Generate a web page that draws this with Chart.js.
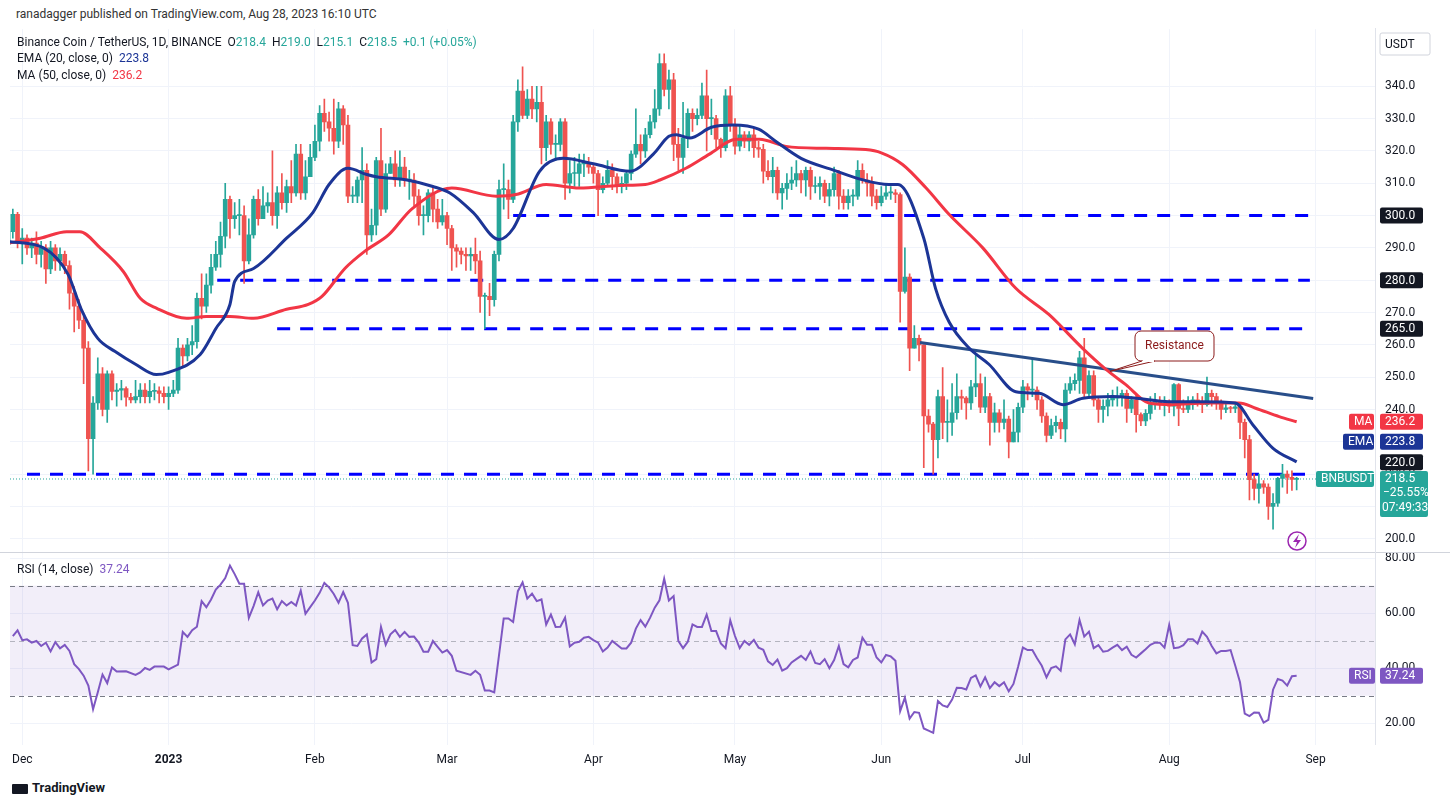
<!DOCTYPE html>
<html><head><meta charset="utf-8">
<script src="https://cdn.jsdelivr.net/npm/chart.js@4.4.0/dist/chart.umd.min.js"></script>
<style>
body{margin:0;background:#fff;font-family:Roboto,"Liberation Sans",sans-serif;color:#131722;width:1450px;height:806px;overflow:hidden;position:relative}
canvas{position:absolute;left:0}
#c1{top:12px}
#c2{top:538px}
.t{position:absolute;font-size:12px;white-space:nowrap}
#sep{position:absolute;left:0;top:552px;width:1450px;height:1px;background:#d1d4dc}
#sep2{position:absolute;left:1375px;top:28px;width:1px;height:717px;background:#e0e3eb}
</style></head><body>
<div class="t" style="left:16px;top:7px;color:#333;font-size:12px">ranadagger published on TradingView.com, Aug 28, 2023 16:10 UTC</div>
<canvas id="c1" width="1450" height="560"></canvas>
<canvas id="c2" width="1450" height="230"></canvas>
<div id="sep"></div><div id="sep2"></div>
<div class="t" style="left:17px;top:35px">Binance Coin / TetherUS, 1D, BINANCE &nbsp;<span style="color:#131722">O</span><span style="color:#26a69a">218.4</span> &nbsp;<span>H</span><span style="color:#26a69a">219.0</span> &nbsp;<span>L</span><span style="color:#26a69a">215.1</span> &nbsp;<span>C</span><span style="color:#26a69a">218.5 &nbsp;+0.1 (+0.05%)</span></div>
<div class="t" style="left:17px;top:51px">EMA (20, close, 0) &nbsp;<span style="color:#1c3596">223.8</span></div>
<div class="t" style="left:17px;top:68px">MA (50, close, 0) &nbsp;<span style="color:#f23645">236.2</span></div>
<div class="t" style="left:17px;top:562px">RSI (14, close) &nbsp;<span style="color:#7e57c2">37.24</span></div>
<div class="t" style="left:12px;top:780px;font-size:13px;font-weight:bold;color:#131722"><span style="display:inline-block;width:16px;height:10px;background:#131722;vertical-align:middle;margin-right:4px;border-radius:1px"></span>TradingView</div>
<script>
// ---- data (day 0 = 2022-11-28) ----
const closes=[295,300.4,292,293,290,291.5,288,290,283.5,290,286,288,284.5,276,272,267.6,259,231,242,251,
240,251,245.6,246,246.5,243.8,243,244,246,244,245.6,245.8,245,244,245,246,259,256.6,260,261,
274.4,272,278.5,284,288,293.6,305,299,300,300,286,294,305,299,303,304,300,307,304,309,
307,319,307,312,318,323,331.6,329,327,323,333,328,306,306,311,314,294,297,317,302,
313,316,311,315,311,311,306,300,300,307,302,298,300,296,290,289,288,287.5,288,286,
275,275,274,288,308,308,305,329,338.5,331,336,333,335,321,329,322,322,329,310,313,
313,316,316,315,313,308,310,314,312,309,310,313,319,322,320,325,329,333,347,339,
342,322,318,324,331.6,330,331,337,330,330,323.6,321,337,328,321.5,325,323,325,321,320.5,
313.7,312,314,307,308.4,310,311,313,311,314,309,309,310,306,308,313,306,304,306,306,
314,311,310,306,304,306,307,307,306.5,276.5,281,259,262,260,238,235.5,230.7,244,236,236,
239,244,243.5,242,247,248,240.7,244,236,239,236,237,230,233,240.7,247,246,246,243,238,
232,235,236,234,246,248,249,256,245,250.5,243,240,241,243,243.5,244,245,240.3,243,238.4,
236.5,238.8,241.5,242.6,241.5,241.8,241,247.7,240.3,240,242.6,243,242,241.5,245,244,242,240,240.5,240.3,
240.8,236,230.7,218.3,215.6,217,216,210,211,218.7,220,219,218.4,218.5];
const highs=[298,302,301,296,294,293,295,292,291,292,291,290,289,286,278,274,269,261,244,256,
253,252,252,248,249,247,245,249,248,248,249,248,247,247,247,249,262,260,262,266,
276,282,282,288,292,298,310,306,304,305,303,299,306,308,309,307,320,309,313,311,
317,322,322,317,322,328,334,336,332,336,335,334,331,309,312,321,316,302,318,327,
316,318,320,320,318,314,313,308,303,308,309,305,305,301,297,291,290,290,290,293,
289,276,279,289,311,316,311,331,342,346,339,340,340,340,331,330,325,330,330,317,
318,319,319,318,316,314,312,317,316,313,312,314,320,333,325,327,331,339,350,350,
345,344,327,335,333,333,333,341,345,336,331,324,339,340,330,328,326,326,327,323,
322,317,318,315,310,313,315,317,314,315,315,312,312,311,310,315,314,308,308,308,
317,316,313,312,308,309,310,309,308,307,290,282,266,263,260,240,236,246,253,243,
248,251,246,244,249,257,251,250,245,242,240,243,238,240,242,249,248,256,247,244,
239,237,238,237,248,250,251,258,262,252,252,244,243,245,246,247,246,246,244,245,
239,240,244,245,244,244,243,248,248,243,244,244,245,244,250,246,245,243,242,241,
242,242,237,232,220,220,218,217,214,219,223,221,221,219];
const lows=[289,293,290,285,288,287,285,284,279,282,283,283,282,271,264,265,248,221,220,240,
238,236,243,241,243,241,242,242,242,242,242,243,242,242,240,244,245,253,255,257,
259,268,270,276,283,284,290,293,296,294,279,285,293,297,299,301,297,296,302,301,
304,306,305,305,315,317,320,326,323,319,321,322,304,304,304,304,288,292,294,300,
301,313,309,309,309,305,303,297,294,298,298,296,297,291,283,284,285,283,283,282,
270,265,269,272,286,302,299,304,326,330,330,330,329,316,317,319,317,320,305,307,
309,309,312,313,310,300,307,309,308,307,307,308,311,318,316,318,324,327,331,337,
333,317,314,313,321,326,328,330,320,325,321,318,320,326,319,320,321,320,318,318,
310,311,307,305,302,305,308,309,307,306,305,307,305,304,303,306,302,302,302,303,
305,310,306,303,302,303,305,305,304,267,276,252,259,255,222,233,220,225,231,230,
232,237,240,237,240,244,239,239,229,233,233,234,225,230,230,239,243,244,240,236,
230,231,233,231,230,245,246,245,244,244,241,236,236,238,241,241,241,236,239,233,
235,235,237,240,240,238,239,238,235,239,239,240,241,239,241,241,240,237,239,239,
239,231,225,212,212,211,214,206,203,210,216,214,215,215.1];
const firstOpen=291;
const emaDays=[0,7.5,12.7,15.5,19,22.6,27,31.4,34,40.7,44,47,48,52,59,64.6,68,72,76,78,84.5,90,93.6,98.5,104,107,112.6,117.6,124,131.8,136.7,140,141.6,144.4,149,153.6,159,162.6,168,175,180.7,186.6,188.5,194,196.5,199.4,203.6,207.8,213.5,218.5,223.5,227.7,234,239,246,253,260,263.7,268,273];
const emaVals=[292,290,281.8,271,262,258,254,250.8,251.5,257,265,272.5,279.6,283.6,293,301,309.6,314.6,312.7,312,311,309,307,301,292.6,296,313.7,317.7,316,313.7,319,324.5,325,324,327.3,328,326.7,323,317.7,314,311.2,309.6,309.6,293,277.4,267,259,254,245.5,245,241.5,243.5,244,243.5,242.4,242.4,242,235.3,228,223.8];
const maDays=[0,6.8,12.4,15.2,19.5,24.4,28,31.5,37.8,42,47,52,59,63.6,66.5,71.4,75.6,80.6,85.5,94,103.4,107.6,114,121,129.5,135,138.1,143.7,148.6,154.3,159.2,164.8,173.3,181.7,185,189.5,194.5,199.4,206.5,213.5,220.5,227.6,232.6,236.8,241.7,246.7,253.8,260.8,264.3,269.3,273];
const maVals=[291.5,293,295,295,290,282.7,274.4,271.3,268.2,268.8,268.8,268.2,271,272.5,275,283.7,289,294,302,308.5,306,306.5,309.6,308.5,309.3,309.6,311,314.7,319,323.6,323.6,321.4,320.8,320.4,319.4,315.8,308.5,300.3,290,277.5,269.4,259,252.4,247.7,242,241.5,242,242,240.4,237.8,236.2];
const levels=[[4,220],[44.3,280],[57,265],[107,300]];
const levelEnd=275.8;
const resistance=[[193.2,260.7],[276.5,243.4]];
const lastPrice=218.5;
const rsiPts=[[1,51.7],[2,53.8],[3,50.2],[4,50.5],[5,49.3],[6,49.9],[7,48.1],[8,49.3],[9,46.1],[10,49.5],[11,47.2],[12,48.5],[13,46.3],[14,41.5],[15,39.7],[16,37.3],[17,33.7],[18,25.1],[19,31.3],[20,37.7],[21,34.6],[22,40.3],[23,38.8],[25,38.9],[27,37.6],[28,38.5],[29,40.1],[30,39.4],[31,40.6],[33,40.6],[34,39.6],[36,41.3],[37,53.2],[38,51.4],[39,53.8],[40,55.1],[41,64.4],[42,62.2],[43,65],[44,68.6],[45,70.4],[46,72.8],[47,77.3],[48,74.2],[49,70.7],[50,70.7],[51,58.3],[52,62.6],[53,67.6],[54,62.8],[55,64.6],[56,65.3],[57,61.4],[58,64.4],[59,62.8],[60,64.1],[61,62.8],[62,68.2],[63,59.8],[64,62.2],[65,64.6],[66,67.4],[67,71],[68,69.4],[69,67],[70,63.8],[71,67.7],[72,63.8],[73,48.4],[74,48.1],[75,50.8],[76,52.3],[77,42.1],[78,43.3],[79,55],[80,48.5],[81,52.3],[82,53.9],[83,51.4],[84,53.2],[85,51.4],[86,51.5],[87,49.3],[88,46],[89,46],[90,49.9],[91,47.8],[92,45.7],[93,46.6],[94,44.5],[95,39.1],[98,37.6],[99,39.1],[100,37.6],[101,31.9],[102,31.9],[103,31.2],[105,58.1],[106,58.1],[107,56.8],[108,68],[109,71.2],[110,65.3],[111,67.1],[112,64.4],[113,65],[114,55.9],[115,59.5],[116,55],[117,55.1],[118,58.4],[119,47.9],[120,49.3],[121,49.6],[122,51.1],[123,51.4],[124,50.2],[125,49.3],[126,46.1],[127,47.5],[128,49.9],[130,47.2],[131,47.2],[132,49.3],[133,54.4],[134,57.5],[135,55.1],[136,58.3],[137,62],[138,64.7],[139,72.5],[140,64.6],[141,66.2],[142,49.9],[143,47.3],[144,49.6],[145,55.9],[146,55],[147,55],[148,59.5],[149,53.5],[150,53.5],[151,49],[152,47.3],[153,57.4],[154,51.7],[155,47.3],[156,49.9],[157,48.5],[158,50.3],[159,47.5],[160,46.7],[161,42.5],[162,41.2],[163,43.1],[164,39.1],[165,40],[166,42.1],[167,43.3],[168,44.5],[169,43],[170,46.1],[171,41.9],[172,41.5],[173,43.3],[174,40],[175,43],[176,48.1],[177,41.5],[178,40.3],[179,43],[180,43.9],[181,51.1],[182,48.5],[183,48.5],[184,43.9],[185,42.1],[186,44.8],[187,44.3],[188,42.7],[189,24.4],[190,29.3],[191,21.7],[192,24.1],[193,23.8],[194,18.1],[195,17.3],[196,16.5],[197,28.1],[198,26.5],[199,25.9],[200,28.6],[201,32.9],[202,32.8],[203,32.3],[204,36.5],[205,37.4],[206,33.4],[207,36.7],[208,32.8],[209,34.9],[210,33.5],[211,34.9],[212,31.6],[213,34.3],[214,40.6],[215,47.5],[216,46.6],[217,46.6],[218,43.6],[219,40.9],[220,36.7],[221,40.1],[222,40.7],[223,39.1],[224,50.5],[225,52.3],[226,48.7],[227,57.5],[228,51.5],[229,53.3],[230,47.3],[231,48.4],[232,46],[233,46.3],[234,47.5],[235,48.5],[236,46.6],[237,47.8],[238,44.9],[239,43.9],[240,45.4],[241,46.9],[242,48.5],[243,49.3],[244,49.3],[245,47.5],[246,55.7],[247,47.3],[248,47.5],[249,48.4],[250,50.5],[251,50.5],[252,49],[253,53.3],[254,51.4],[255,48.1],[256,45.4],[257,46.3],[258,46.3],[259,46.6],[260,40.9],[261,34.9],[262,23.5],[263,22.6],[264,23.9],[265,23.8],[266,20.2],[267,21.2],[268,32.2],[269,36.1],[270,35.5],[271,33.7],[272,37.1],[273,37.24]];
const monthTicks=[3,34,65,93,124,154,185,215,246,277];
const monthLabels=['Dec','2023','Feb','Mar','Apr','May','Jun','Jul','Aug','Sep'];
const priceTicks=[200,210,220,230,240,250,260,270,280,290,300,310,320,330,340];
const rsiTicks=[20,40,60,80];

// ---- build ----
const GREEN='#26a69a',RED='#ef5350';
const opens=[firstOpen].concat(closes.slice(0,-1));
const wick=[],body=[],cols=[];
closes.forEach((c,i)=>{const o=opens[i];wick.push({x:i,y:[lows[i],highs[i]]});body.push({x:i,y:[o,c]});cols.push(c>=o?GREEN:RED);});
const ema=emaDays.map((d,i)=>({x:d,y:emaVals[i]}));
const ma=maDays.map((d,i)=>({x:d,y:maVals[i]}));
const XMIN=0.4,XMAX=289.6;
const font="Roboto, 'Liberation Sans', sans-serif";
const levelSets=levels.map(l=>({type:'line',data:[{x:l[0],y:l[1]},{x:levelEnd,y:l[1]}],borderColor:'#0000ff',borderWidth:3,borderDash:[13,10],pointRadius:0,order:5}));
function rightW(s){s.width=75;}

function box(ctx,x,y,w,h,bg,txt,fg,border){ctx.fillStyle=bg;ctx.beginPath();ctx.roundRect(x,y-h/2,w,h,2);ctx.fill();if(border){ctx.strokeStyle=border;ctx.lineWidth=1;ctx.stroke();}ctx.fillStyle=fg;ctx.font='12px '+font;ctx.textBaseline='middle';ctx.textAlign='left';ctx.fillText(txt,x+5,y+0.5);}

const OFF=16; // canvas top = page 12; page y = canvas y + 12
const overlay={id:'ov',afterDraw(ch){
 const ctx=ch.ctx,y=ch.scales.y,x=ch.scales.x;ctx.save();
 const ax=1380;
 box(ctx,1380,44-12,50,22,'#fff','USDT','#131722','#d1d4dc');
 [[300,0],[280,0],[265,0],[220,-12]].forEach(([v,off])=>box(ctx,ax,y.getPixelForValue(v)+off,43,16,'#131722',v.toFixed(1),'#fff'));
 const pm=y.getPixelForValue(236.2);
 box(ctx,1349,pm,25,16,'#f23645','MA','#fff');box(ctx,ax,pm,43,16,'#f23645','236.2','#fff');
 const pe=y.getPixelForValue(223.8)-20;
 box(ctx,1343,pe,31,16,'#1c3596','EMA','#fff');box(ctx,ax,pe,43,16,'#1c3596','223.8','#fff');
 const pl=y.getPixelForValue(lastPrice);
 box(ctx,1316,pl,58,16,GREEN,'BNBUSDT','#fff');
 ctx.fillStyle=GREEN;ctx.beginPath();ctx.roundRect(ax,pl-8,48,46,2);ctx.fill();
 ctx.fillStyle='#fff';ctx.font='12px '+font;ctx.textBaseline='middle';
 ctx.fillText('218.5',ax+5,pl);ctx.fillText('−25.55%',ax+3,pl+14);ctx.fillText('07:49:33',ax+2,pl+29);
 // resistance callout (page coords -12)
 const tx=x.getPixelForValue(233.5),ty=y.getPixelForValue(251.8);
 ctx.fillStyle='#fff';ctx.strokeStyle='#8b1a1a';ctx.lineWidth=1;
 ctx.beginPath();ctx.roundRect(1135,331-12,79,30,6);ctx.fill();ctx.stroke();
 ctx.beginPath();ctx.moveTo(1142,361-12);ctx.lineTo(tx,ty);ctx.lineTo(1155,361-12);ctx.fillStyle='#fff';ctx.fill();ctx.stroke();
 ctx.fillStyle='#fff';ctx.fillRect(1143,359-12,11,3);
 ctx.fillStyle='#8b1a1a';ctx.font='12px '+font;ctx.textAlign='center';ctx.fillText('Resistance',1174.5,346-12);
 // lightning icon
 const ly=541-12;
 ctx.strokeStyle='#9c27b0';ctx.lineWidth=1.5;ctx.beginPath();ctx.arc(1297,ly,9,0,Math.PI*2);ctx.stroke();
 ctx.fillStyle='#9c27b0';ctx.beginPath();ctx.moveTo(1299,ly-7);ctx.lineTo(1293,ly+1);ctx.lineTo(1297,ly+1);ctx.lineTo(1295,ly+7);ctx.lineTo(1301,ly-1);ctx.lineTo(1297,ly-1);ctx.closePath();ctx.fill();
 ctx.restore();}};

new Chart(document.getElementById('c1'),{type:'bar',
 data:{datasets:[
  {type:'line',data:[{x:XMIN,y:lastPrice},{x:XMAX,y:lastPrice}],borderColor:GREEN,borderWidth:1,borderDash:[1,2],pointRadius:0,order:6},
  ...levelSets,
  {type:'bar',data:wick,backgroundColor:cols,barThickness:1,grouped:false,order:4},
  {type:'bar',data:body,backgroundColor:cols,barThickness:4,minBarLength:1,grouped:false,order:3},
  {type:'line',data:resistance.map(p=>({x:p[0],y:p[1]})),borderColor:'#284e8a',borderWidth:3,pointRadius:0,order:2},
  {type:'line',data:ma,borderColor:'#f23645',borderWidth:3,pointRadius:0,cubicInterpolationMode:'monotone',order:1},
  {type:'line',data:ema,borderColor:'#1c3596',borderWidth:3,pointRadius:0,cubicInterpolationMode:'monotone',order:0}
 ]},
 options:{responsive:false,animation:false,devicePixelRatio:1,layout:{padding:{left:10,right:0,top:0,bottom:0}},
  plugins:{legend:{display:false},tooltip:{enabled:false}},
  scales:{
   x:{type:'linear',min:XMIN,max:XMAX,offset:false,grid:{offset:false,color:'#f0f3fa',drawTicks:false},border:{display:false},
      afterBuildTicks:s=>{s.ticks=monthTicks.map(v=>({value:v}));},ticks:{display:false},afterFit:s=>{s.height=0;}},
   y:{position:'right',min:195.05,max:357.65,grid:{color:'#f0f3fa',drawTicks:false},border:{display:false},
      afterBuildTicks:s=>{s.ticks=priceTicks.map(v=>({value:v}));},afterFit:rightW,
      ticks:{color:'#131722',font:{size:12,family:font},padding:10,callback:v=>Number(v).toFixed(1)}}
  }},
 plugins:[overlay]});

const rsiPlug={id:'rsib',beforeDatasetsDraw(ch){const c=ch.ctx,y=ch.scales.y,a=ch.chartArea;c.save();
  c.fillStyle='rgba(126,87,194,0.1)';const y70=y.getPixelForValue(70),y30=y.getPixelForValue(30);c.fillRect(a.left,y70,a.right-a.left,y30-y70);
  c.lineWidth=1;c.setLineDash([5,4]);
  [[70,'#787b86'],[50,'rgba(120,123,134,0.5)'],[30,'#787b86']].forEach(([v,col])=>{const p=Math.round(y.getPixelForValue(v))+0.5;c.strokeStyle=col;c.beginPath();c.moveTo(a.left,p);c.lineTo(a.right,p);c.stroke();});
  c.restore();},
 afterDraw(ch){const c=ch.ctx,y=ch.scales.y;const p=y.getPixelForValue(37.24);c.save();
  box(c,1349,p,26,16,'#7e57c2','RSI','#fff');box(c,1380,p,43,16,'#7e57c2','37.24','#fff');c.restore();}};

new Chart(document.getElementById('c2'),{type:'line',
 data:{datasets:[{data:rsiPts.map(p=>({x:p[0],y:p[1]})),borderColor:'#7e57c2',borderWidth:2,pointRadius:0,tension:0}]},
 options:{responsive:false,animation:false,devicePixelRatio:1,layout:{padding:{left:10,right:0,top:0,bottom:0}},
  plugins:{legend:{display:false},tooltip:{enabled:false}},
  scales:{
   x:{type:'linear',min:XMIN,max:XMAX,grid:{color:'#f0f3fa',drawTicks:false},border:{display:false},
      afterBuildTicks:s=>{s.ticks=monthTicks.map(v=>({value:v}));},afterFit:s=>{s.height=23;},
      ticks:{color:'#131722',padding:8,maxRotation:0,autoSkip:false,
        font:c=>({size:12,family:font,weight:monthLabels[monthTicks.indexOf(c.tick&&c.tick.value)]==='2023'?'bold':'normal'}),
        callback:v=>monthLabels[monthTicks.indexOf(v)]}},
   y:{position:'right',min:12.1,max:81.08,grid:{color:'#f0f3fa',drawTicks:false},border:{display:false},
      afterBuildTicks:s=>{s.ticks=rsiTicks.map(v=>({value:v}));},afterFit:rightW,
      ticks:{color:'#131722',font:{size:12,family:font},padding:10,callback:v=>Number(v).toFixed(2)}}
  }},
 plugins:[rsiPlug]});
</script></body></html>
